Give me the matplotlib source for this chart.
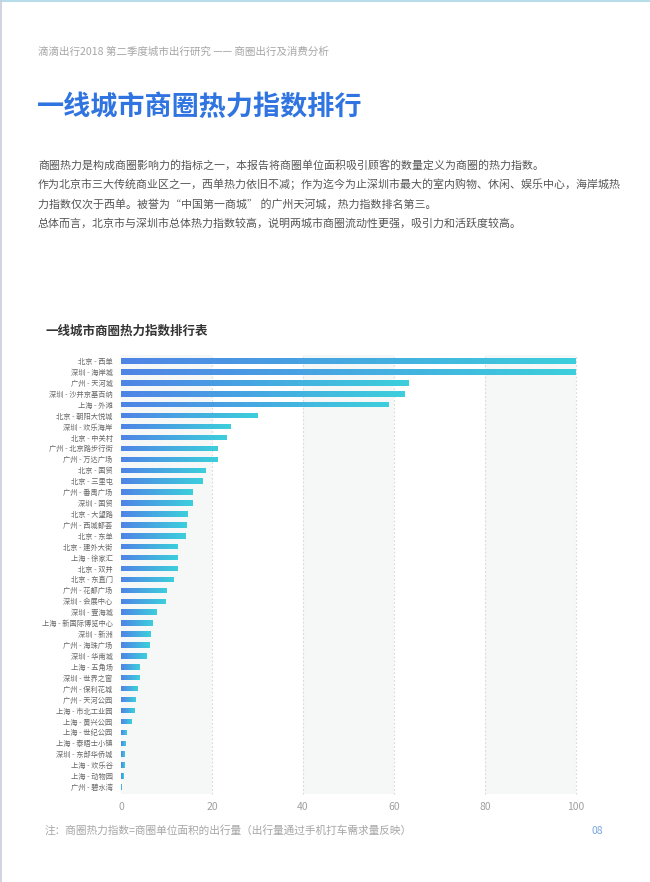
import matplotlib
matplotlib.use("Agg")
import matplotlib.pyplot as plt
import numpy as np
from matplotlib.lines import Line2D
from matplotlib.colors import LinearSegmentedColormap

plt.rcParams['font.family'] = ['Noto Sans CJK SC', 'DejaVu Sans']

# data
districts = ["北京 - 西单", "深圳 - 海岸城", "广州 - 天河城", "深圳 - 沙井京基百纳", "上海 - 外滩",
             "北京 - 朝阳大悦城", "深圳 - 欢乐海岸", "北京 - 中关村", "广州 - 北京路步行街", "广州 - 万达广场",
             "北京 - 国贸", "北京 - 三里屯", "广州 - 番禺广场", "深圳 - 国贸", "北京 - 大望路",
             "广州 - 西城都荟", "北京 - 东单", "北京 - 建外大街", "上海 - 徐家汇", "北京 - 双井",
             "北京 - 东直门", "广州 - 花都广场", "深圳 - 会展中心", "深圳 - 壹海城", "上海 - 新国际博览中心",
             "深圳 - 新洲", "广州 - 海珠广场", "深圳 - 华南城", "上海 - 五角场", "深圳 - 世界之窗",
             "广州 - 保利花城", "广州 - 天河公园", "上海 - 市北工业园", "上海 - 黄兴公园", "上海 - 世纪公园",
             "上海 - 泰晤士小镇", "深圳 - 东部华侨城", "上海 - 欢乐谷", "上海 - 动物园", "广州 - 碧水湾"]
heat_index = [100, 99.8, 63.1, 62.2, 58.7,
              29.9, 24.0, 23.1, 21.3, 21.3,
              18.5, 18.0, 15.8, 15.8, 14.7,
              14.5, 14.1, 12.5, 12.4, 12.4,
              11.6, 10.1, 9.8, 7.8, 7.0,
              6.4, 6.2, 5.6, 4.0, 4.0,
              3.7, 3.1, 3.0, 2.3, 1.3,
              1.0, 0.7, 0.7, 0.5, 0.15]
x_ticks = [0, 20, 40, 60, 80, 100]

header = "滴滴出行2018 第二季度城市出行研究 —— 商圈出行及消费分析"
title = "一线城市商圈热力指数排行"
paragraph = ["商圈热力是构成商圈影响力的指标之一，本报告将商圈单位面积吸引顾客的数量定义为商圈的热力指数。",
             "作为北京市三大传统商业区之一，西单热力依旧不减；作为迄今为止深圳市最大的室内购物、休闲、娱乐中心，海岸城热",
             "力指数仅次于西单。被誉为“中国第一商城” 的广州天河城，热力指数排名第三。",
             "总体而言，北京市与深圳市总体热力指数较高，说明两城市商圈流动性更强，吸引力和活跃度较高。"]
chart_title = "一线城市商圈热力指数排行表"
note = "注：商圈热力指数=商圈单位面积的出行量（出行量通过手机打车需求量反映）"
page_no = "08"

fig = plt.figure(figsize=(6.5, 8.82), dpi=100)
W, H = 650, 882

def fx(px):
    return px / W

def fy(py):
    return 1 - py / H

# page frame
fig.add_artist(Line2D([0, 1], [fy(1), fy(1)], color="#b7dcea", lw=1.5))
fig.add_artist(Line2D([fx(1), fx(1)], [0, 1], color="#c9cddb", lw=1.2))

fig.text(fx(38), fy(52), header, fontsize=7.6, color="#a6a6a6", va="center")
fig.text(fx(37), fy(107), title, fontsize=19.5, color="#2f74e0", va="center", fontweight="bold")
for i, line in enumerate(paragraph):
    fig.text(fx(38), fy(165 + i * 19.5), line, fontsize=7.9, color="#555555", va="center")
fig.text(fx(45), fy(331), chart_title, fontsize=9, color="#333333", va="center", fontweight="bold")
fig.text(fx(45), fy(830), note, fontsize=7.7, color="#a6a6a6", va="center")
fig.text(fx(592), fy(831), page_no, fontsize=7.5, color="#7aa7e0", va="center")

# chart
ax = fig.add_axes([fx(121), fy(793.5), 455 / W, 439 / H])
y = np.arange(len(districts))
bar_h = 0.5
bars = ax.barh(y, heat_index, height=bar_h, color="none", edgecolor="none", zorder=3)

cmap = LinearSegmentedColormap.from_list("blue_cyan", ["#4f84e6", "#3ccfdc"])
grad = np.linspace(0, 1, 256).reshape(1, -1)
for rect, val, yi in zip(bars, heat_index, y):
    im = ax.imshow(grad, cmap=cmap, aspect="auto", zorder=3,
                   extent=[0, val, yi + bar_h / 2, yi - bar_h / 2])
    im.set_clip_path(rect)

ax.set_xlim(0, 100)
ax.set_ylim(len(districts) - 0.4, -0.6)

# alternating bands
for i in range(0, len(x_ticks) - 1, 2):
    ax.axvspan(x_ticks[i], x_ticks[i + 1], color="#f6f8f8", zorder=0, lw=0)
for t in x_ticks[1:]:
    ax.axvline(t, color="#d9d9d9", lw=0.8, ls=(0, (1.5, 2)), zorder=1, clip_on=False)

ax.set_yticks(y)
ax.set_yticklabels(districts, fontsize=5.2, color="#666666")
ax.set_xticks(x_ticks)
ax.set_xticklabels([str(t) for t in x_ticks], fontsize=7.5, color="#a0a0a0")
ax.tick_params(axis="both", length=0)
ax.tick_params(axis="y", pad=6)
ax.tick_params(axis="x", pad=6)
for s in ax.spines.values():
    s.set_visible(False)

fig.savefig("out.png", dpi=100)
